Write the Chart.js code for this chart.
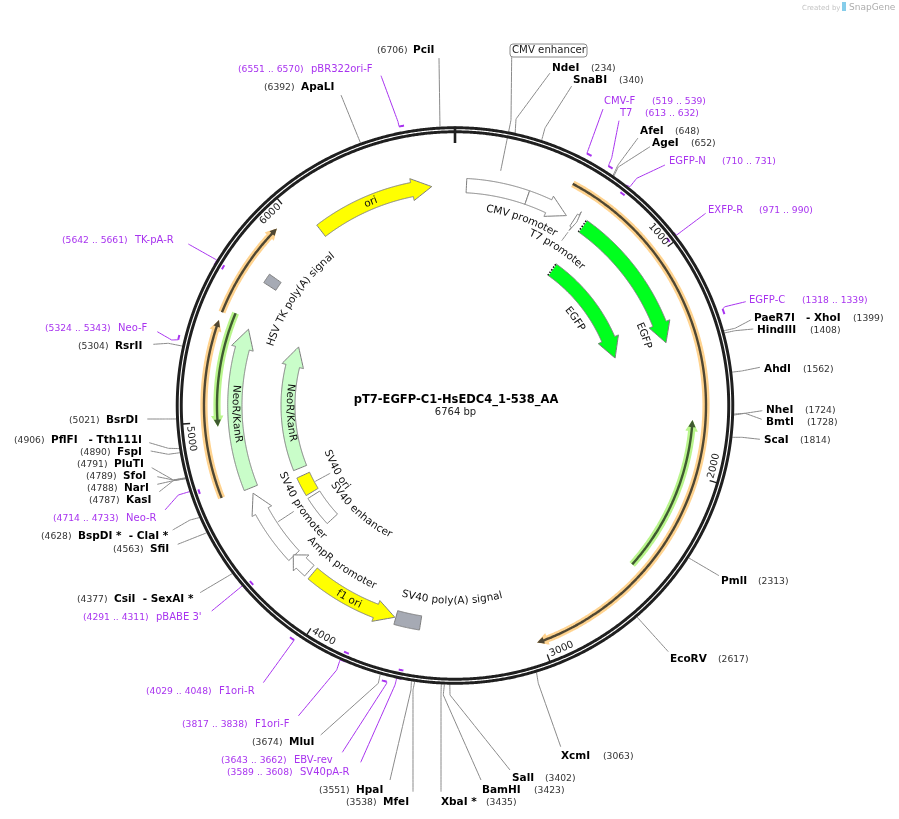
<!DOCTYPE html>
<html>
<head>
<meta charset="utf-8">
<title>pT7-EGFP-C1-HsEDC4_1-538_AA</title>
<script src="https://cdn.jsdelivr.net/npm/chart.js@4"></script>
<style>
  html, body { margin: 0; padding: 0; background: #fff; }
  canvas { display: block; }
</style>
</head>
<body>
<canvas id="map" width="899" height="819"></canvas>
<script>
// plasmid data, all in base pairs
const plasmidName = "pT7-EGFP-C1-HsEDC4_1-538_AA";
const plasmidLength = 6764;
const tickValues = [1000, 2000, 3000, 4000, 5000, 6000];

const siteNames = ["NdeI", "SnaBI", "AfeI", "AgeI", "PaeR7I   - XhoI", "HindIII", "AhdI", "NheI", "BmtI", "ScaI",
  "PmlI", "EcoRV", "XcmI", "SalI", "BamHI", "XbaI *", "MfeI", "HpaI", "MluI", "PciI", "ApaLI", "RsrII", "BsrDI",
  "PflFI   - Tth111I", "FspI", "PluTI", "SfoI", "NarI", "KasI", "BspDI *  - ClaI *", "SfiI", "CsiI  - SexAI *"];
const sitePositions = [234, 340, 648, 652, 1399, 1408, 1562, 1724, 1728, 1814,
  2313, 2617, 3063, 3402, 3423, 3435, 3538, 3551, 3674, 6706, 6392, 5304, 5021,
  4906, 4890, 4791, 4789, 4788, 4787, 4628, 4563, 4377];

const primerNames = ["CMV-F", "T7", "EGFP-N", "EXFP-R", "EGFP-C", "pBR322ori-F", "TK-pA-R", "Neo-F", "Neo-R",
  "pBABE 3'", "F1ori-R", "F1ori-F", "EBV-rev", "SV40pA-R"];
const primerStart = [519, 613, 710, 971, 1318, 6551, 5642, 5324, 4714, 4291, 4029, 3817, 3643, 3589];
const primerEnd = [539, 632, 731, 990, 1339, 6570, 5661, 5343, 4733, 4311, 4048, 3838, 3662, 3608];
const primerStrand = [1, 1, -1, -1, 1, 1, -1, 1, -1, -1, 1, -1, 1, -1];

const featureNames = ["CMV enhancer", "CMV promoter", "T7 promoter", "EGFP", "EGFP", "ori", "HSV TK poly(A) signal",
  "NeoR/KanR", "NeoR/KanR", "SV40 ori", "SV40 enhancer", "SV40 promoter", "AmpR promoter", "f1 ori", "SV40 poly(A) signal"];
const featureStart = [56, 360, 613, 665, 667, 6060, 5688, 4660, 4660, 4487, 4270, 4265, 4160, 3680, 3551];
const featureEnd = [360, 571, 631, 1380, 1381, 6650, 5736, 5454, 5459, 4610, 4466, 4632, 4270, 4139, 3675];
const featureDir = [0, 1, 1, 1, 1, 1, 0, 1, 1, 0, 0, 1, 1, -1, 0];
const featureKind = ["regulatory", "regulatory", "regulatory", "egfp", "egfp", "origin", "polya",
  "marker", "marker", "origin", "regulatory", "regulatory", "regulatory", "origin", "polya"];
const featureTrack = [1, 1, 1, 1, 2, 1, 1, 1, 2, 2, 2, 1, 1, 1, 1];

// thin translated regions with a coloured halo
const orfStart = [526, 4667, 5483, 1757, 4977];
const orfEnd = [3023, 5447, 5915, 2478, 5502];
const orfDir = [1, 1, 1, -1, -1];
const orfKind = ["orange", "orange", "orange", "green", "green"];

// geometry and styling
const CX = 455, CY = 405.5;
const R_RING = 275.75;
const PURPLE = "#a833ef";
const FONT = '"DejaVu Sans"';
const trackRadius = { 1: [213, 227.3], 2: [160, 174] };
const kindFill = { regulatory: "#ffffff", egfp: "#00ff1e", origin: "#ffff00", polya: "#a6aab4", marker: "#c9fdc9" };
const orfStyle = {
  orange: { r: 251, halo: "#ffd38f", line: "#4f4733" },
  green: { r: 238, halo: "#b9f58c", line: "#3f5a31" }
};

// label layout: name x, centre y, bracket x, then the outer points of the leader line
const siteLayout = [
  [552, 68, 591, [[550, 73], [516, 119]]],
  [573, 80, 619, [[571.7, 86], [545, 128]]],
  [640, 131, 675, [[638, 138], [618, 165]]],
  [652, 143, 691, [[650, 146.7], [618.3, 167]]],
  [754, 318, 853, [[750.7, 320], [735, 328.3]]],
  [757, 330, 810, [[753.3, 329], [735, 330.7]]],
  [764, 369, 803, [[760, 367.3], [741.7, 371]]],
  [766, 410, 805, [[762.3, 410.7], [745, 413.3]]],
  [766, 422, 807, [[761.7, 419.3], [745, 413.3]]],
  [764, 440, 800, [[760, 439.3], [742, 437.3]]],
  [721, 581, 758, [[719, 575.7]]],
  [670, 659, 718, [[668.3, 651.7]]],
  [561, 756, 603, [[560.7, 746.7], [538.3, 683.3]]],
  [512, 778, 545, [[510, 770], [450, 695]]],
  [482, 790, 534, [[481, 780], [443.3, 695]]],
  [441, 802, 486, [[441, 791.7], [441, 695]]],
  [383, 802, 346, [[413, 791.7], [413, 690]]],
  [356, 790, 319, [[390, 780], [411, 690]]],
  [289, 742, 252, [[320.7, 735], [378.3, 683.3]]],
  [413, 50, 377, [[439, 58]]],
  [301, 87, 264, [[341, 95]]],
  [115, 346, 78, [[153.3, 344.3], [168.3, 343.3]]],
  [106, 420, 69, [[147.3, 419], [165, 419]]],
  [51, 440, 14, [[149.3, 442.7], [168.3, 448.3]]],
  [117, 452, 80, [[150.7, 451], [168.3, 454.3]]],
  [114, 464, 77, [[151.7, 467.7], [173.3, 480]]],
  [123, 476, 86, [[157.3, 476.7], [173.3, 480]]],
  [124, 488, 87, [[157.3, 484.3], [173.3, 480.7]]],
  [126, 500, 89, [[159.3, 491.7], [173.3, 480.7]]],
  [78, 536, 41, [[172.7, 530], [190, 520]]],
  [150, 549, 113, [[177.7, 544.3]]],
  [114, 599, 77, [[200, 592.7]]]
];
const primerLayout = [
  [604, 101, 652, [[603, 109]]],
  [620, 113, 645, [[619, 120.7], [611.7, 158]]],
  [669, 161, 722, [[665, 165], [636.7, 178.3], [630, 186.7]]],
  [708, 210, 759, [[705.7, 213.3], [676.7, 235]]],
  [749, 300, 802, [[745.7, 301.7], [725, 306.7]]],
  [311, 69, 238, [[381, 75.7], [398, 121.7]]],
  [135, 240, 62, [[188.3, 244], [216.7, 260]]],
  [118, 328, 45, [[157.3, 331.7], [171.7, 340]]],
  [126, 518, 53, [[165, 510], [178.3, 495], [195, 490]]],
  [156, 617, 83, [[211.7, 611], [243.3, 585]]],
  [219, 691, 146, [[263.3, 682.7]]],
  [255, 724, 182, [[298.3, 716], [336.7, 670], [340, 660]]],
  [294, 760, 221, [[342.3, 752.3], [386.7, 683.3]]],
  [300, 772, 227, [[360.7, 762.3], [395, 685], [396.7, 678.3]]]
];
// curved feature captions: angle in degrees from the top, radius, reading direction (1 clockwise, -1 counter)
const captionLayout = [
  null,
  [19.8, 199, 1],
  [33.2, 188, 1],
  [69.7, 201.5, 1],
  [54.2, 148, 1],
  [337.5, 220, 1],
  [304.5, 194, 1],
  [267.8, 219.5, -1],
  [267.5, 165.5, -1],
  [241.5, 135.5, -1],
  [221.9, 144.5, -1],
  [236.7, 185.5, -1],
  [215.6, 197.5, -1],
  [208.7, 221, -1],
  [180.9, 195.5, -1]
];

function bpToDeg(bp) { return bp / plasmidLength * 360; }
function polar(deg, r) {
  const a = deg * Math.PI / 180;
  return { x: CX + r * Math.sin(a), y: CY - r * Math.cos(a) };
}
function toPoint(p) { return p.x === undefined ? { x: p[0], y: p[1] } : p; }
function arc(d0, d1, r) {
  const n = Math.max(1, Math.ceil(Math.abs(d1 - d0) * 2));
  const pts = [];
  for (let i = 0; i <= n; i++) pts.push(polar(d0 + (d1 - d0) * i / n, r));
  return pts;
}
// closed outline of a block or an arrow along the circle
function arrowShape(startBp, endBp, rIn, rOut, dir, flare, headPx) {
  const a0 = bpToDeg(startBp), a1 = bpToDeg(endBp);
  if (!dir) {
    const p = arc(a0, a1, rOut).concat(arc(a1, a0, rIn));
    p.push(p[0]);
    return p;
  }
  const rMid = (rIn + rOut) / 2;
  const tip = dir > 0 ? a1 : a0, tail = dir > 0 ? a0 : a1;
  const headDeg = Math.min(headPx / rMid * 180 / Math.PI, Math.abs(a1 - a0) / 2);
  const base = tip - dir * headDeg;
  const p = arc(tail, base, rOut).concat(
    [polar(base, rOut + flare), polar(tip, rMid), polar(base, rIn - flare)],
    arc(base, tail, rIn));
  p.push(p[0]);
  return p;
}

// a tiny tension keeps chart.js off its fast path, that one only suits x-sorted lines
const STRAIGHT = 0.0001;
const datasets = [];
function addLine(points, color, width, dash) {
  datasets.push({ data: points.map(toPoint), showLine: true, fill: false, borderColor: color, borderWidth: width,
    borderDash: dash || [], pointRadius: 0, tension: STRAIGHT, borderCapStyle: "butt", borderJoinStyle: "miter" });
}
function addShape(points, fill, stroke, width) {
  datasets.push({ data: points, showLine: true, fill: "shape", backgroundColor: fill,
    borderColor: stroke || fill, borderWidth: stroke ? (width || 1) : 0, pointRadius: 0, tension: STRAIGHT });
}

// leader lines go first so the ring sits on top of their ends
siteNames.forEach(function (name, i) {
  addLine(siteLayout[i][3].concat([polar(bpToDeg(sitePositions[i]), 279)]), "#8a8a8a", 1);
});
addLine([[511.7, 57], [511, 120], polar(bpToDeg(207), 239)], "#8a8a8a", 1);
addLine([[561.7, 240.7], polar(bpToDeg(622), 207)], "#8a8a8a", 1);
addLine([polar(241.5, 142), polar(241.5, 159)], "#8a8a8a", 1);
addLine([polar(236.7, 193), polar(236.7, 212)], "#8a8a8a", 1);
primerNames.forEach(function (name, i) {
  // forward primers sit outside the ring, the leader meets the start of the mark
  const r = primerStrand[i] > 0 ? 284.5 : 279;
  addLine(primerLayout[i][3].concat([polar(bpToDeg(primerStart[i]), r)]), PURPLE, 1);
});

// backbone ring
addLine(arc(0, 360, R_RING), "#1f1f1f", 7);
addLine(arc(0, 360, R_RING), "#ffffff", 1.1);

// ruler
addLine([polar(0, 262.5), polar(0, 279)], "#1f1f1f", 2.6);
tickValues.forEach(function (t) {
  addLine([polar(bpToDeg(t), 265.5), polar(bpToDeg(t), 273)], "#1f1f1f", 1.3);
});

// primer marks
primerNames.forEach(function (name, i) {
  const r = primerStrand[i] > 0 ? 284.5 : 270;
  addLine(arc(bpToDeg(primerStart[i]), bpToDeg(primerEnd[i]), r), PURPLE, 2);
});

// thin halo arcs
orfStart.forEach(function (s, i) {
  const st = orfStyle[orfKind[i]];
  addShape(arrowShape(s, orfEnd[i], st.r - 3.6, st.r + 3.6, orfDir[i], 2.6, 11), st.halo);
  addShape(arrowShape(s, orfEnd[i], st.r - 1.2, st.r + 1.2, orfDir[i], 2.3, 7), st.line);
});

// feature blocks and arrows
featureNames.forEach(function (name, i) {
  const tr = trackRadius[featureTrack[i]];
  addShape(arrowShape(featureStart[i], featureEnd[i], tr[0], tr[1], featureDir[i], 4, 20),
    kindFill[featureKind[i]], "#7d7d7d", 1);
  if (featureKind[i] === "egfp") {
    const a = bpToDeg(featureStart[i]);
    addLine([polar(a, tr[0]), polar(a, tr[1])], "#ffffff", 1.6);
    addLine([polar(a, tr[0]), polar(a, tr[1])], "#111111", 1.6, [1.5, 1.5]);
  }
});

// chart.js paints the first dataset last, we listed them bottom to top
datasets.reverse();

function arcText(ctx, text, deg, r, dir) {
  const total = ctx.measureText(text).width;
  const mid = deg * Math.PI / 180;
  ctx.textAlign = "center";
  ctx.textBaseline = "middle";
  for (let i = 0; i < text.length; i++) {
    const before = ctx.measureText(text.slice(0, i)).width;
    const w = ctx.measureText(text[i]).width;
    const s = before + w / 2 - total / 2;
    const th = mid + dir * s / r;
    ctx.save();
    ctx.translate(CX + r * Math.sin(th), CY - r * Math.cos(th));
    ctx.rotate(dir > 0 ? th : th - Math.PI);
    ctx.fillText(text[i], 0, 0);
    ctx.restore();
  }
}

const labelPlugin = {
  id: "mapLabels",
  afterDatasetsDraw(chart) {
    const ctx = chart.ctx;
    ctx.save();
    ctx.textBaseline = "middle";
    ctx.textAlign = "left";

    // restriction sites
    siteNames.forEach(function (name, i) {
      const l = siteLayout[i];
      ctx.font = "bold 10.5px " + FONT;
      ctx.fillStyle = "#000";
      ctx.fillText(name, l[0], l[1]);
      ctx.font = "9.2px " + FONT;
      ctx.fillStyle = "#333";
      ctx.fillText("(" + sitePositions[i] + ")", l[2], l[1] + 0.5);
    });

    // primers
    primerNames.forEach(function (name, i) {
      const l = primerLayout[i];
      ctx.fillStyle = PURPLE;
      ctx.font = "10px " + FONT;
      ctx.fillText(name, l[0], l[1]);
      ctx.font = "9.2px " + FONT;
      ctx.fillText("(" + primerStart[i] + " .. " + primerEnd[i] + ")", l[2], l[1] + 0.5);
    });

    // box of the CMV enhancer caption
    ctx.beginPath();
    ctx.roundRect(510, 44, 77, 13, 3);
    ctx.fillStyle = "#fff";
    ctx.fill();
    ctx.strokeStyle = "#8a8a8a";
    ctx.lineWidth = 1;
    ctx.stroke();
    ctx.fillStyle = "#222";
    ctx.font = "10.2px " + FONT;
    ctx.fillText(featureNames[0], 512, 50.5);

    // curved captions
    ctx.fillStyle = "#111";
    ctx.font = "10.4px " + FONT;
    featureNames.forEach(function (name, i) {
      const c = captionLayout[i];
      if (c) arcText(ctx, name, c[0], c[1], c[2]);
    });

    // ruler numbers
    ctx.fillStyle = "#222";
    ctx.font = "10px " + FONT;
    tickValues.forEach(function (t) {
      const d = bpToDeg(t);
      arcText(ctx, String(t), d - 3.3, 266, (d < 90 || d > 270) ? 1 : -1);
    });

    // centre title
    ctx.textAlign = "center";
    ctx.fillStyle = "#000";
    ctx.font = "bold 11.5px " + FONT;
    ctx.fillText(plasmidName, 456, 400);
    ctx.fillStyle = "#222";
    ctx.font = "10px " + FONT;
    ctx.fillText(plasmidLength + " bp", 455.5, 412);

    // watermark
    ctx.textAlign = "left";
    ctx.fillStyle = "#c4c4c4";
    ctx.font = "7px " + FONT;
    ctx.fillText("Created by", 802, 8);
    ctx.fillStyle = "#86cdea";
    ctx.fillRect(842, 2, 4, 9);
    ctx.fillStyle = "#adadad";
    ctx.font = "9px " + FONT;
    ctx.fillText("SnapGene", 849, 8);
    ctx.restore();
  }
};

new Chart(document.getElementById("map"), {
  type: "scatter",
  data: { datasets: datasets },
  plugins: [labelPlugin],
  options: {
    responsive: false,
    animation: false,
    events: [],
    layout: { padding: 0 },
    plugins: { legend: { display: false }, tooltip: { enabled: false } },
    scales: {
      x: { type: "linear", display: false, min: 0, max: 899 },
      y: { type: "linear", display: false, min: 0, max: 819, reverse: true }
    }
  }
});
</script>
</body>
</html>
